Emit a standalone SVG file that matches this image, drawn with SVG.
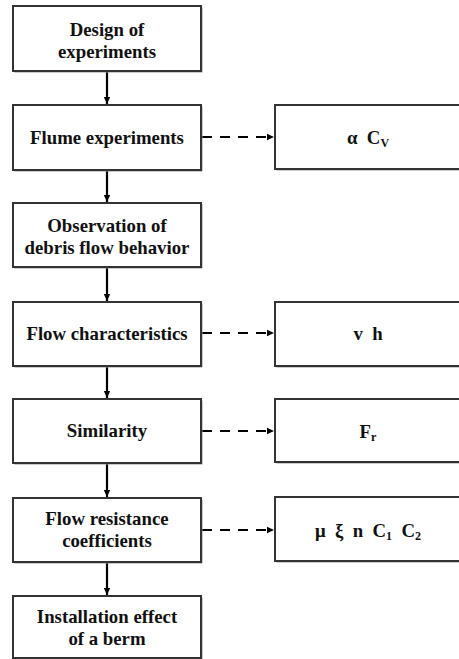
<svg xmlns="http://www.w3.org/2000/svg" width="459" height="659" viewBox="0 0 459 659">
<style>
.box{fill:#fff;stroke:#333;stroke-width:2}
.sh{fill:#9a9a9a}
.t{font-family:'Liberation Serif','Times New Roman','DejaVu Serif',serif;font-weight:700;font-size:18.8px;fill:#111;text-anchor:middle}
.sub{font-size:12px}
.solid{stroke:#000;stroke-width:2.2;fill:none}
.dash{stroke:#000;stroke-width:2.2;fill:none;stroke-dasharray:10 8}
</style>
<defs>
<marker id="ah" markerUnits="userSpaceOnUse" markerWidth="8" markerHeight="8" refX="7" refY="4" orient="auto">
<path d="M0,0.8 L7,4 L0,7.2 z" fill="#000"/>
</marker>
</defs>
<rect width="459" height="659" fill="#fff"/>
<g id="connectors">
<line class="solid" x1="107" y1="72" x2="107" y2="104" marker-end="url(#ah)"/>
<line class="solid" x1="107" y1="171" x2="107" y2="202" marker-end="url(#ah)"/>
<line class="solid" x1="107" y1="268" x2="107" y2="301" marker-end="url(#ah)"/>
<line class="solid" x1="107" y1="367" x2="107" y2="398" marker-end="url(#ah)"/>
<line class="solid" x1="107" y1="464" x2="107" y2="497" marker-end="url(#ah)"/>
<line class="solid" x1="107" y1="563" x2="107" y2="595" marker-end="url(#ah)"/>
<line class="dash" x1="202" y1="137" x2="274" y2="137" marker-end="url(#ah)"/>
<line class="dash" x1="202" y1="333" x2="274" y2="333" marker-end="url(#ah)"/>
<line class="dash" x1="202" y1="431" x2="274" y2="431" marker-end="url(#ah)"/>
<line class="dash" x1="202" y1="530" x2="274" y2="530" marker-end="url(#ah)"/>
</g>
<g id="n1"><rect class="sh" x="14.5" y="7.5" width="188" height="65"/><rect class="box" x="13" y="6" width="188" height="65"/>
<text class="t" x="107" y="36">Design of</text><text class="t" x="107" y="57.5">experiments</text></g>
<g id="n2"><rect class="sh" x="14.5" y="106.5" width="188" height="65"/><rect class="box" x="13" y="105" width="188" height="65"/>
<text class="t" x="107" y="144">Flume experiments</text></g>
<g id="n3"><rect class="sh" x="14.5" y="204.5" width="188" height="64"/><rect class="box" x="13" y="203" width="188" height="64"/>
<text class="t" x="107" y="232">Observation of</text><text class="t" x="107" y="253.5">debris flow behavior</text></g>
<g id="n4"><rect class="sh" x="14.5" y="303.5" width="188" height="64"/><rect class="box" x="13" y="302" width="188" height="64"/>
<text class="t" x="107" y="340">Flow characteristics</text></g>
<g id="n5"><rect class="sh" x="14.5" y="400.5" width="188" height="64"/><rect class="box" x="13" y="399" width="188" height="64"/>
<text class="t" x="107" y="437">Similarity</text></g>
<g id="n6"><rect class="sh" x="14.5" y="499.5" width="188" height="64"/><rect class="box" x="13" y="498" width="188" height="64"/>
<text class="t" x="107" y="525">Flow resistance</text><text class="t" x="107" y="546.5">coefficients</text></g>
<g id="n7"><rect class="sh" x="14.5" y="597.5" width="188" height="62"/><rect class="box" x="13" y="596" width="188" height="62"/>
<text class="t" x="107" y="623">Installation effect</text><text class="t" x="107" y="644.5">of a berm</text></g>
<g id="r1"><rect class="sh" x="276.5" y="106.5" width="186" height="64"/><rect class="box" x="275" y="105" width="186" height="64"/>
<text class="t" x="368" y="144" xml:space="preserve">α  C<tspan class="sub" dy="3">V</tspan></text></g>
<g id="r2"><rect class="sh" x="276.5" y="303.5" width="186" height="64"/><rect class="box" x="275" y="302" width="186" height="64"/>
<text class="t" x="368" y="340" xml:space="preserve">v  h</text></g>
<g id="r3"><rect class="sh" x="276.5" y="400.5" width="186" height="63"/><rect class="box" x="275" y="399" width="186" height="63"/>
<text class="t" x="368" y="437.5">F<tspan class="sub" dy="3">r</tspan></text></g>
<g id="r4"><rect class="sh" x="276.5" y="498.5" width="186" height="64"/><rect class="box" x="275" y="497" width="186" height="64"/>
<text class="t" x="368" y="537" xml:space="preserve">μ  ξ  n  C<tspan class="sub" dy="3">1</tspan><tspan dy="-3">  C</tspan><tspan class="sub" dy="3">2</tspan></text></g>
</svg>
